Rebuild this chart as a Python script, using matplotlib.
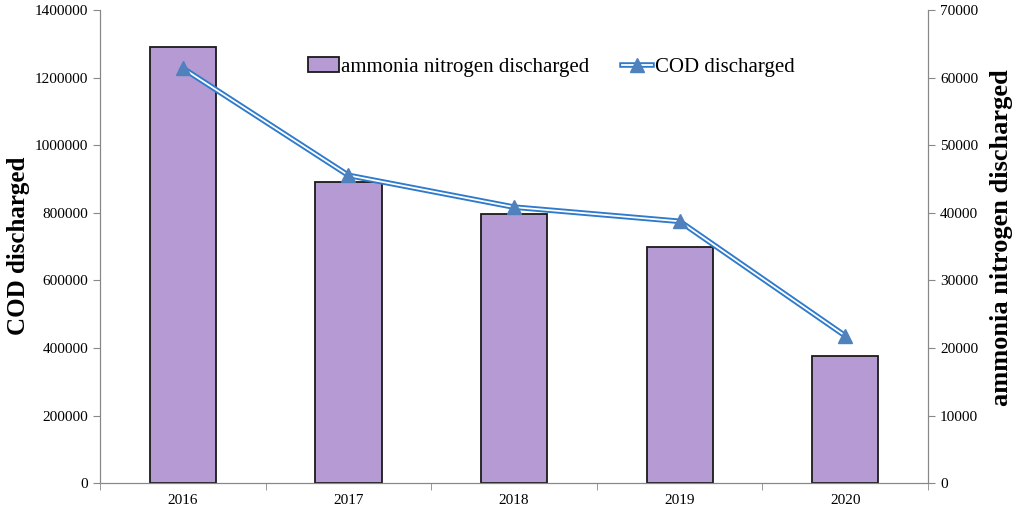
import numpy as np
import matplotlib
matplotlib.use('Agg')
import matplotlib.pyplot as plt
from matplotlib.lines import Line2D
from matplotlib.patches import Patch
from matplotlib.ticker import FormatStrFormatter

# Data
years = ['2016', '2017', '2018', '2019', '2020']
ammonia = [64600, 44500, 39900, 35000, 18800]
cod = [1228000, 911000, 817000, 775000, 436000]

plt.rcParams['font.family'] = ['Liberation Serif', 'DejaVu Serif']

fig = plt.figure(figsize=(10.21, 5.07), dpi=100)
ax = fig.add_axes([0.098, 0.047, 0.811, 0.933])
ax2 = ax.twinx()

x = np.arange(len(years))
bar_color = '#B59AD4'
line_color = '#2E7ACB'
mark_color = '#4F81BD'

# bars belong to the right (ammonia) axis
ax2.bar(x, ammonia, width=0.4, color=bar_color, edgecolor='#1a1a1a', linewidth=1.3, zorder=2)
# double line for COD on the left axis, drawn on top
ax.set_zorder(ax2.get_zorder() + 1)
ax.patch.set_visible(False)
ax.plot(x, cod, color=line_color, linewidth=4, zorder=3)
ax.plot(x, cod, color='white', linewidth=1.3, zorder=4)
ax.plot(x, cod, linestyle='none', marker='^', markersize=10, color=mark_color, zorder=5)

ax.set_xlim(-0.5, 4.5)
ax.set_ylim(0, 1400000)
ax2.set_ylim(0, 70000)
ax.set_yticks(np.arange(0, 1400001, 200000))
ax2.set_yticks(np.arange(0, 70001, 10000))
ax.yaxis.set_major_formatter(FormatStrFormatter('%d'))
ax2.yaxis.set_major_formatter(FormatStrFormatter('%d'))
ax.set_xticks(x)
ax.set_xticklabels(years)
ax.set_xticks(np.arange(-0.5, 4.6, 1), minor=True)
ax.tick_params(axis='x', which='major', length=0, pad=8)
ax.tick_params(axis='x', which='minor', length=5, color='#888888', direction='out')
ax.tick_params(axis='y', length=5, color='#888888', labelsize=11)
ax2.tick_params(axis='y', length=5, color='#888888', labelsize=11)
ax.tick_params(axis='x', labelsize=11)

for a in (ax, ax2):
    a.spines['top'].set_visible(False)
    for s in ('left', 'right', 'bottom'):
        a.spines[s].set_color('#888888')

# axis titles placed as figure text
fig.text(18 / 1021, 1 - 246 / 507, 'COD discharged', rotation=90, ha='center', va='center',
         fontsize=18, fontweight='bold')
fig.text(1001 / 1021, 1 - 238 / 507, 'ammonia nitrogen discharged', rotation=90,
         ha='center', va='center', fontsize=19, fontweight='bold')

handles = [
    Patch(facecolor=bar_color, edgecolor='#1a1a1a', linewidth=1.3),
    (Line2D([], [], color=line_color, linewidth=4),
     Line2D([], [], color='white', linewidth=1.3),
     Line2D([], [], linestyle='none', marker='^', markersize=10, color=mark_color)),
]
ax.legend(handles, ['ammonia nitrogen discharged', 'COD discharged'],
          loc='upper center', bbox_to_anchor=(0.545, 0.94), ncol=2, frameon=False,
          fontsize=15, handlelength=1.45, handletextpad=0.1, columnspacing=1.6)

fig.savefig('out.png', dpi=100)
